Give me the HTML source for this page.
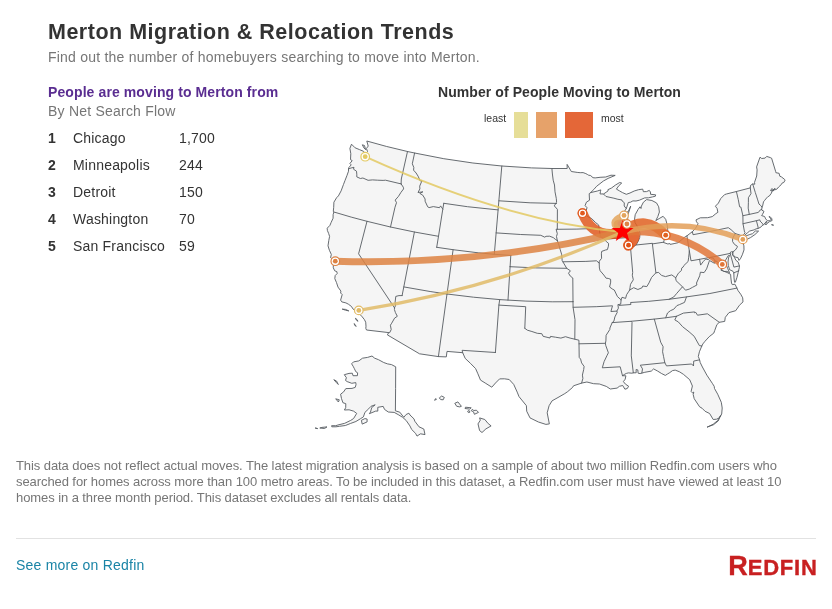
<!DOCTYPE html>
<html lang="en">
<head>
<meta charset="utf-8">
<title>Merton Migration &amp; Relocation Trends</title>
<style>
html,body{margin:0;padding:0;background:#fff;}
body{width:832px;height:609px;position:relative;overflow:hidden;font-family:"Liberation Sans",sans-serif;color:#333;}
.t{position:absolute;white-space:nowrap;line-height:1;}
#title{left:48px;top:22px;font-size:21.5px;font-weight:bold;color:#333;letter-spacing:0.5px;}
#sub{left:48px;top:50px;font-size:14px;color:#767676;letter-spacing:0.22px;}
#h2{left:48px;top:85px;font-size:14px;font-weight:bold;color:#5a2d91;letter-spacing:0.1px;}
#by{left:48px;top:104px;font-size:14px;color:#767676;letter-spacing:0.22px;}
.row{position:absolute;left:48px;font-size:14px;line-height:1;white-space:nowrap;color:#333;letter-spacing:0.2px;}
.row b{position:absolute;left:0;top:0;}
.row .n{position:absolute;left:25px;top:0;}
.row .v{position:absolute;left:131px;top:0;}
#mt{left:438px;top:85px;font-size:14px;font-weight:bold;color:#333;letter-spacing:0.08px;}
.lg{font-size:10.5px;color:#333;}
.sw{position:absolute;top:112px;height:26px;}
#disc{position:absolute;left:16px;top:458px;width:800px;font-size:13px;line-height:16px;color:#767676;letter-spacing:-0.08px;}
#hr{position:absolute;left:16px;top:538px;width:800px;height:1px;background:#e2e2e2;}
#more{left:16px;top:558px;font-size:14px;color:#1a84a6;letter-spacing:0.22px;}
#logo{position:absolute;left:728px;top:550px;}
svg#map{position:absolute;left:0;top:0;}
.land{fill:#f5f5f5;stroke:#565b61;stroke-width:0.9;stroke-linejoin:round;}
.bord{fill:none;stroke:#565b61;stroke-width:0.9;stroke-linejoin:round;stroke-linecap:round;}
</style>
</head>
<body>
<div class="t" id="title">Merton Migration &amp; Relocation Trends</div>
<div class="t" id="sub">Find out the number of homebuyers searching to move into Merton.</div>
<div class="t" id="h2">People are moving to Merton from</div>
<div class="t" id="by">By Net Search Flow</div>
<div class="row" style="top:131px"><b>1</b><span class="n">Chicago</span><span class="v">1,700</span></div>
<div class="row" style="top:158px"><b>2</b><span class="n">Minneapolis</span><span class="v">244</span></div>
<div class="row" style="top:185px"><b>3</b><span class="n">Detroit</span><span class="v">150</span></div>
<div class="row" style="top:212px"><b>4</b><span class="n">Washington</span><span class="v">70</span></div>
<div class="row" style="top:239px"><b>5</b><span class="n">San Francisco</span><span class="v">59</span></div>
<div class="t" id="mt">Number of People Moving to Merton</div>
<div class="t lg" style="left:484px;top:113px">least</div>
<div class="sw" style="left:514px;width:14px;background:#e6de98"></div>
<div class="sw" style="left:536px;width:21px;background:#e6a26a"></div>
<div class="sw" style="left:565px;width:28px;background:#e46738"></div>
<div class="t lg" style="left:601px;top:113px">most</div>
<svg id="map" width="832" height="609" viewBox="0 0 832 609">
<path class="land" d="M351.5,144.2L349.9,148.4L350.8,153.7L350.5,159.6L352.2,160.6L349.9,163.5L351.2,164.9L348.9,167.5L348.5,168.9L348.5,171.2L347,175.4L345,180.5L343.5,184.4L341.1,190.9L338.4,195.9L336.6,197.7L333.9,202.2L333.7,207.3L333.3,211.3L333.9,212L333.1,214.7L333.1,218.2L331.2,222.3L329.9,225.4L327.2,228.2L327.4,230.5L328.6,233.4L329.6,236.4L328.8,240.4L328,245.8L329.4,250.3L331.3,254.4L330.6,257.7L333,259.5L334.3,261.1L333.3,264.3L333.3,267.8L334.7,270.8L336.8,271.6L337.2,273.5L335.2,275.5L334.8,278.6L336.5,282.6L338,287.1L340.9,291.1L340.6,293L342.2,294.6L340.6,300.1L341.8,301.9L345.9,302.9L348.4,304.2L351.5,306.5L352.8,308.8L355.2,310.5L357.8,310.8L358.1,314.2L359.9,314.4L362.2,316.8L364.4,319.6L365.7,322.2L366,326.2L365.8,328.3L366.5,330L388.7,332.6L387.4,334.9L419.5,353.8L438.4,356.6L446.3,356.9L447,351.4L462.7,352.7L465.2,358.4L470.4,363.3L475.6,368.6L477.9,373.8L480.5,380.1L485.8,383.4L491.8,387.2L495.5,383L499.6,378.9L504.4,378.8L509.2,379.5L513.7,384.4L517.2,392.1L519,396.6L526.4,405.7L526.7,411.2L530,417.9L538.4,422L545.9,424.4L549.4,423.9L549.2,423.1L547.2,412.8L549.1,405.7L552.1,400.8L558,397.5L564.8,393.6L567.7,391.6L572.5,387.5L573.5,385.8L581.6,383.1L586.9,382L593.6,383.7L599.4,384L600.9,384.5L606.3,386.4L610.3,389L617.1,388.1L619.4,386.3L622.7,385.5L624.9,389.2L627.3,388.5L628.6,386.2L625.5,384.2L623.4,381.6L625.2,379.2L625.9,375.8L622.5,375.7L624.8,374.2L626.7,373.3L628.5,372.9L631.9,373.2L633.3,372.8L636.2,372.8L636.1,369.5L637.8,369.9L638.1,373.2L640.1,373.6L641.8,373.1L644.8,372.3L651.3,371.1L653.6,368.9L657.5,371L661.7,373.6L665.3,375.4L667.5,374L669.8,372.6L672.5,370.6L675.2,370.1L679.5,371.8L683.4,374.3L689.7,379.7L692.4,386L691.1,391.4L692.6,393L693.8,392L693.2,394.5L694.2,398.7L699.6,406.8L702,408.2L705.1,411.3L709.6,413.5L713.2,419.5L716.5,419.2L719.5,417.7L721.7,414L722.2,408L721.3,402.3L717.7,394.2L714.5,388.5L714.2,386.3L712.3,383.3L706.9,375.2L702.4,367L700.2,362.5L699.6,359.8L698.3,356.5L699.4,351.8L701.8,346L702.9,343.9L704.9,341.4L709.2,336.7L713.8,333.1L714.7,330.6L716.9,324.6L719.3,322.3L724.7,321.4L725.3,317.3L729,312.6L735.7,310.7L739.4,305.3L743,301.9L742.7,297.8L740.7,294.2L738.1,290.7L736.9,288.1L735.4,285L734.9,284.2L732.3,284.6L731.5,283L730.9,278L730.6,274.3L727.1,272.5L723.3,271L721,270.3L721.9,265.6L721.7,269.6L723.8,271.5L726.9,271.4L729.6,272.7L728.4,270L727.6,268.4L726.5,265.2L726.2,262.8L725.5,260.3L728.2,255.7L729.6,255.4L728.5,257.9L728,262L728.3,265.4L729.6,269.7L733,271.3L733.8,272.8L734,277.9L734.5,282.2L735.4,282.2L737,277.3L738.2,272.4L739.4,267.2L739.4,265.9L738.2,262.1L735.9,260.3L734.4,257.2L732.7,255.3L732.3,253.7L732.8,251.9L733,254.7L735.2,257.1L737.9,257.6L739,260.4L740.4,258.8L742.3,254.8L744,249.9L743.9,245.9L743,241.9L740.9,242L742.2,239.4L742.4,237.7L743.7,237L744.3,235.5L747.6,232.7L749.7,231L754.1,229.9L756,228.9L757.9,228.5L760.8,227.2L762,225.6L762.8,225.4L763.3,224.9L764.8,223.4L766.6,221.2L766.8,223.7L769.4,221.7L772.1,220.5L771.7,218.5L770.1,216.7L768.9,216.7L770.2,217.8L771.3,219.5L769.2,220.8L767.4,220.7L765.7,218.9L764.6,216.5L761.6,215.6L762.4,214.5L764,211.4L761.8,210.1L761.7,209.5L761.9,208L762,207.1L762.6,206L763.5,201.8L764.4,200.7L766.6,198L768.2,196.4L769,196.4L771.4,193.2L772.5,189.9L774.9,189.8L776.8,189.2L778.6,187L781.2,184.7L782.3,182.9L783.8,182.5L785.1,180.1L784.5,179.3L781.4,176.9L779.8,176.2L779.1,173.3L775.9,172.7L775.6,171.3L771.6,158.2L770.3,157.6L766.7,156.4L765.1,158.1L761.7,158.5L760,157.2L756.6,166.9L757.1,169.9L756.7,176L754.5,182.4L754.8,184.2L752.7,184L750.5,185.4L750.3,187.9L736.4,191.5L726.4,194L724.6,194.6L720.7,198.6L718.4,203.1L715.4,206.2L717.1,208.5L717.9,212.3L715.8,213.7L712.3,216.6L707.6,217.7L700.3,217.8L696,219.9L696.5,221.8L698.1,223.8L695.3,228.6L692.4,231.7L689.9,233.5L686.9,235.9L684.7,237.2L678.1,242.7L674.1,243.6L670.1,244.4L669.8,243.5L667.9,244L663.6,242.5L664.5,238.8L666.3,235.8L668.3,233.2L667.7,229.8L667.3,225.2L665.7,219.3L663.1,216.3L659.1,218.6L655.8,220.6L657.8,216.6L659.4,212L658.7,206.8L656.5,202.9L651.9,200.5L646.6,199.6L643.4,202.2L641.4,206.1L641,208.5L640,206.8L638.1,209.4L635.2,214.7L634.6,219L635,222.5L638.4,228.3L640,233.3L639.7,237.5L638.3,241L636.1,245L635.5,245.5L632.3,246.9L630.4,246.2L629.6,244.3L628.8,242.4L627.3,239.1L627.4,237.6L627.3,235L626.2,231.7L625.9,227.7L626.9,223.6L627,219.7L627.7,219.1L627.8,215.6L628.2,214L630.7,206.1L628.4,211.4L626,212.5L623.8,215.3L624.7,211L626.3,208.6L628.3,202.5L630.5,202.2L632.9,200.9L636,201L639.4,200.2L644.7,197.9L648.5,197.8L652.6,196.9L655.4,196.2L655.6,194.8L650.6,194.3L650.4,192L649.3,190.4L646.5,191.6L643.4,191.7L642.7,189.1L638.5,189.7L634.2,191L630,193L626.3,194.3L622.5,192.6L619.7,191L616.4,189.1L619,185.5L621.7,183.1L619.7,182.5L615.5,185L611.5,188L607.9,189.7L608.1,190.9L603.5,194L600,193.9L600.5,191.4L600.8,189.9L597.4,191L590.6,192.6L593.8,189.5L596.6,186.3L603.4,181L608.1,178.4L615.2,175.4L611,175.2L605.7,177L600.1,177.3L595.2,177.9L593,177.7L590.7,175.6L588.4,175.1L587.3,174.4L585.8,173.6L583.1,172.6L580.2,172.7L577.2,172.4L571.3,171.5L570.5,170.1L567.1,164.4L567.2,168.5L551.9,168.5L531.5,167.9L501.8,166L472.9,163L443.8,158.7L414.6,153L407.5,151.5L386.3,146.4L366.8,141L368.2,146.1L366.4,148.5L367.5,151.5L365.5,153.5L363.5,151.3L359.7,149.7L355.1,147.8L351.5,144.2ZM742.4,240.5L743.1,240.7L744.3,240.3L746.7,239.5L750.5,237.6L754.9,234.6L758.6,231.1L755.3,231L752.5,233.7L749.2,234.7L745.8,236L744,237.3L742.9,238.1L742.4,240.5ZM425,434.6L423.8,429L419,426.8L414.8,421.2L414,418.9L410,415L408.9,413.2L406.1,414.5L403.8,417.3L399.8,412.2L395.4,410.8L395.6,388.6L395.7,366.8L391.5,364.6L387.6,363.9L383.7,362.5L378.5,359.7L374.7,358.2L372,356L367.6,357.4L362.5,358.2L358.8,360.9L353.5,361.9L351.6,363.8L353.1,366.2L354.4,368.7L355.8,371.7L357.6,372.8L357.4,375.7L353,375.7L352.3,373.2L349,373.4L344.3,374.7L346.4,377.7L345.5,380.4L347.2,381.6L351.8,383.3L355.8,382.6L356,384.7L355.2,387.4L352,388.4L345.8,388.6L343.6,391.9L340.6,394.2L341.5,398.6L342.9,402.7L345.8,403.7L345.7,407.7L344.4,410L349.1,409.8L353.5,411.1L356.7,413.4L353.6,418.5L350.7,420.4L344.7,423.3L337.9,425L335.7,425.7L331.6,425.7L331.8,426.8L335.9,426.8L339.5,426.3L345.4,425.5L350.4,423.5L355.9,421.5L360.5,418.7L363.4,416.9L364.9,412.4L368.7,408.8L371,406.3L375.2,404.8L371.7,407.6L370.5,412L369.3,413.7L375.7,411.1L377.8,411.1L377.8,407.3L383.2,406.4L384.5,409.4L388.3,412L394.2,412.4L398.2,414.6L402.6,417.3L406.2,420.5L409.9,425.9L411.7,429.5L415.6,433.4L417,436.1L420.5,433.8L425,434.6ZM361.4,420.3L362.2,424.1L367.1,421.9L367.1,419L364.9,418.6L361.4,420.3ZM333.8,379.7L336.5,381L338.3,384.5L336.4,382.6L333.8,379.7ZM335.7,398.8L339.3,399.8L338.4,402L335.7,398.8ZM327,426.9L321.9,427.4L319.8,428L324.5,428.5L327,426.9ZM317.7,428.6L315.1,428L317.7,428.6ZM479.6,417.9L484.8,419.5L488.2,423.6L491.1,425.9L485.9,428.9L482,432.5L479.6,430.6L478,423.9L480.3,420.2L479.6,417.9ZM471.2,410.7L472.3,409.3L473.8,410.5L476.4,410.2L478.5,412.4L474.4,414.3L473.5,411.8L471.2,410.7ZM454.8,403.3L457.9,401.9L461.4,406.3L459.8,406.9L456.7,406.3L454.8,403.3ZM439.3,397.9L441.7,396L444.3,397.4L443.2,399.8L440.7,399.6L439.3,397.9ZM465,408.5L465.5,407.2L471.2,407.8L469.7,409.1L465,408.5ZM467.6,411.3L469.1,410.5L470,412.1L468.4,412.6L467.6,411.3ZM434.4,400.1L436,398.5L436.3,399.6L434.4,400.1ZM720.6,415.5L718.2,421L713.4,424.8L707,427.2L713.2,424.2L717.6,420.6L720.6,415.5ZM764.5,223.8L766.5,224.5L764.5,223.8ZM771.5,224.7L773.6,225.2L771.5,224.7ZM770.5,190.5L772,188.5L773.5,190L775,188.2L773.2,191L770.5,190.5ZM342.2,309.1L345.5,309.4L348.8,310.9L345.5,310.2L342.2,309.1ZM355.4,318.3L357,319.5L358,321.3L356.5,320.3L355.4,318.3ZM354,323.6L355.4,324.8L356,326.5L354.8,325.3L354,323.6ZM362.3,144.8L364.5,145.5L365.6,149.7L364,148L362.3,144.8Z"/>
<path class="bord" d="M348.5,168.9L351,168L354,167.3L353.5,169.2L356.5,171.2L356.8,174.2L356.8,176.9L360.4,178.5L362.9,178L368.1,180.3L372.5,179.9L377.6,180.2L383.1,180.4L385.5,180.2L401.1,183.9M407.5,151.5L401.3,179L401.1,183.9M401.1,183.9L403.3,187.2L403.6,188.9L401,192.3L398.5,196.3L395.2,200.1L396.5,202.7L395,207.2L390.5,227M333.9,212L351.2,217.1L367,221.3L390.5,227L414.4,232L438.5,236.3M367,221.3L358.6,253.8L394.5,307.8M402.1,295.6L399,295.6L395.8,296.4L395.1,302.2L395.5,305.7L394.5,307.8L394.4,309.5L395.4,312.5L397.3,316.3L394.6,318.1L391.7,323.2L390.4,325.2L391.2,329.6L389.7,332.6L388.7,332.6M402.1,295.6L403.8,286.9L414.4,232M403.8,286.9L430.1,291.5L447,294L473.5,297.2L499.7,299.6L508,300.1L525.9,301.1L552.2,301.8L573,301.7M447,294L438.4,356.6M447,294L453.1,249.7M436.7,247.3L453.1,249.7L478.2,252.8L494.3,254.3L510.8,255.5M436.7,247.3L438.5,236.3L442.8,209.1L443.8,203.3M443.8,203.3L467.4,206.7L498.1,209.9M442.8,209.1L440.6,205.9L439.5,207.7L433.3,206.6L429.1,207.6L427.7,206.8L425.1,201.2L425.1,199L422.7,195.1L419.8,193.4L422.9,191.8L418,192.5L419.9,188.9L419.7,186.1L421.9,180.9L420.1,180.8L418.1,176.2L416.1,173L413.6,170.2L413.8,167.4L412.3,163.8L414.6,153M501.8,166L498.1,209.9L494.3,254.3M498.9,200.8L530.1,202.8L556.6,203.4M496.1,232.9L520.7,234.5L540.8,235.3L544.8,237.2L546,236.3L549.6,236.2L553.3,237.6L555.3,239.3L557.3,240.5M510.8,255.5L510.1,266.7M510.1,266.7L535.7,267.9L566.7,268.3M510.1,266.7L508,300.1M499.7,299.6L498.9,305.1L495.4,352.5M498.9,305.1L525.7,306.7L524.8,328.3M495.4,352.5L462.1,350.3L462.7,352.7M524.8,328.3L527.4,330.2L531.9,331.5L537.3,333.3L541.8,333.7L543.1,336.3L550,338L550.4,336.4L555.5,337.2L560.9,338.1L565.5,336.7L570.1,338.1L574.8,339.2L578.9,340.2L579,343.8L579.2,357.4L580.6,359.1L581.6,362.9L584.1,366.4L583.7,369.5L582.4,375.1L582.9,378.4L581.6,383.1M579,343.8L605.4,343.3M574.8,339.2L575,319.7L573.1,307.3L573,301.7M573,301.7L572.8,278L570.3,276.1L568.5,273.2L570.4,270.8L566.7,268.3L562.9,261.8L562.2,260.7L561.6,254.2L560.1,249.3L558.5,243.7L557.3,240.5M562.9,261.8L585.9,261.4L596.5,260.8L599.2,263.1M557.3,229.3L576.9,229.1L599.1,228.3M557.3,240.5L556.5,236.5L557.3,233.7L556.1,229.2L557.3,229.3L557.4,209.3L554.3,205.9L556.3,202.6L556.6,202.2L556.3,198.5L555,191.8L554.5,185L553.2,180.2L552.4,174L551.9,168.5M590.6,192.6L589.2,193.7L589.5,200.2L586.4,202.2L585.1,205.6L587,207.7L585.9,211.6L586,215L588.2,216.9L591.7,218.6L595.4,222.4L598.7,225L599.1,228.3L599.9,233.3L600.5,236.6L604.3,239.2L606.5,241.8L608.6,243.4L608.4,246.2L607.4,249.6L605.5,250L601.7,251.4L601.4,253.8L601.6,258.3L599.3,261.2L599.2,263.1L599.4,268.1L600.1,270.7L603.8,275L606.1,278.2L608.2,278.4L610.6,279.3L610.7,282.1L609.6,287L612.8,289.3L614.3,290L617.4,296.5L621.1,299.9L620.7,304.2L617.9,304.6L618.4,308.2L616.8,311.1L617.3,312.2L614.9,316.9L613.9,321.1L612.2,322.6L609.9,328L609.8,329.5L606.1,335.3L605.9,340.9L605.4,343.3L605.7,345.3L608.4,352.8L607.1,355.3L604.1,361.6L602.3,367.8L620.2,366.8L622.5,375.7M604.3,239.2L627.4,237.6M603.5,194L606,196.5L613.9,198.2L617.9,199.3L621.8,199.9L622.1,201L624.3,202.7L624.2,206L626.3,208.6M630.4,246.2L632.7,272.4L632.3,275.2L633.3,279.8L630.5,284.3L630,287.7L629.7,290M621.1,299.9L622,297.3L625.6,298.4L626.6,294.7L628.9,291.2L629.7,290L633.7,287.7L637.9,289.5L642.1,287.7L642.8,286L646.8,286.6L649,282.9L651.6,277.4L655.9,272.8L658.6,272.4L661.5,275.4L665.5,276.6L671.8,274.9L675.7,277.8L678.4,273.2L681.5,270.4L681.6,268.2L683.1,267.1L683.8,265.6L688.1,261.5L688.7,257.2L689.1,253.4L689.3,250.7M686.9,235.9L689.3,250.7L691,260.8L699.6,259.3L716,256.3L730.2,253.4L730.5,252.1L731.6,251.7L732.8,251.9M730.2,253.4L733.9,267.1L739.4,265.9M733.6,272.9L738.8,270.8M699.6,259.3L700.6,265.1L703.3,261.5L705.7,259L708.5,259.7L710.4,257.6L713.4,258.2L715,261L717,261.4L719.8,264.3L721.9,265.6M715,261L714.5,263.3L709.5,260.5L706.6,268.9L704.1,272.6L700.4,272.2L699.7,275.8L696.5,283L696.9,285L692.4,287.4L689.3,289.1L685.5,290.2L682.5,286.8L676,280.6L675.7,277.8M682.5,286.8L676.8,293.3L673.7,297L669.1,299.3M736.9,288.1L709.9,293.5L686.5,296.9L669.1,299.3L648.8,301.3L630.6,302.5L630.9,304.5L619.1,305.4M686.5,296.9L684.5,302.4L679.5,304.6L676.9,305.6L673.8,309.2L670.4,310.7L667.5,313L665.7,317.8M676.5,316.3L665.7,317.8L654.3,319.1L631,321.3L612.2,322.6M676.5,316.3L683.4,313.1L694.6,311.9L694.8,313L695.7,312.3L697.5,315.2L707.4,313.8L719.3,322.3M676.5,316.3L674.8,319.9L678.3,321.9L682.6,326.7L689.1,331.8L694.2,336.3L696.8,341L699.4,345.6L701.8,346M699.6,359.8L693.7,361.1L693.5,366L691.7,364L666.5,365.9L664.8,362.7L663.6,356.7L662.6,351.8L663.1,346.7L660.7,342.2L654.3,319.1M664.8,362.7L640.3,365.2L642.5,368.9L641.8,373.1M633.3,372.8L631.3,355.9L632,322.3L631,321.3M573.1,307.3L596.2,306.7L612.5,305.8L610.9,311.5L616.8,311.1M655.9,272.8L652.4,243.9M636.1,245L652.4,243.3L652.4,243.9L663.6,242.2M692.4,231.7L693,234.7L711.1,231.3L728.3,227.7L731.1,229.7L735.1,233.5L732.6,238.5L732.6,241.6L734.5,244.4L737.4,246.3L737,247.7L735.2,250.2L732.8,251.9M735.1,233.5L742.4,235.9L742.2,239.4M744.3,235.5L743.5,234.5L745.2,232.8L744.5,232L743,223.7L742.9,215.7L740.9,207.1L739.6,206.8L738.3,199.7L736.4,191.5M749.3,214.4L748.2,208.1L748.4,202.3L748.4,197.7L751,193.6L750.3,187.9M742.9,215.7L749.3,214.4L758.4,212.4L760.3,209.9L761.7,209.5M743,223.7L756.4,220.7L759.8,219.8L760.1,221.1L762.2,223.2L763.3,224.9M756.4,220.7L758.1,227.2L757.9,228.5M762,207.1L760.6,205.4L759,204.1L757.7,199.9L755.3,192.5L752.7,184"/>
<path d="M628.5,245.2Q642.6,230.5 622.3,232.1" fill="none" stroke="#e05014" stroke-width="11" stroke-linecap="round" stroke-opacity="0.85"/>
<path d="M582.5,213.2Q593.8,240.7 622.3,232.1" fill="none" stroke="#e1591e" stroke-width="10" stroke-linecap="round" stroke-opacity="0.85"/>
<path d="M665.7,235.2Q645.5,213.1 622.3,232.1" fill="none" stroke="#e16221" stroke-width="10" stroke-linecap="round" stroke-opacity="0.85"/>
<path d="M722.3,264.4Q679.1,227.3 622.3,232.1" fill="none" stroke="#e17638" stroke-width="7.3" stroke-linecap="round" stroke-opacity="0.85"/>
<path d="M335.3,261.2Q480.7,265.6 622.3,232.1" fill="none" stroke="#dd8242" stroke-width="6.9" stroke-linecap="round" stroke-opacity="0.85"/>
<path d="M626.9,224Q609.8,219.7 622.3,232.1" fill="none" stroke="#de8446" stroke-width="7" stroke-linecap="round" stroke-opacity="0.85"/>
<path d="M742.8,239.4Q683.7,216.2 622.3,232.1" fill="none" stroke="#e39f58" stroke-width="5.5" stroke-linecap="round" stroke-opacity="0.85"/>
<path d="M624,215.4Q605.6,222 622.3,232.1" fill="none" stroke="#e3a45c" stroke-width="6" stroke-linecap="round" stroke-opacity="0.85"/>
<path d="M358.8,310.4Q495.7,288.5 622.3,232.1" fill="none" stroke="#e1bb67" stroke-width="3.2" stroke-linecap="round" stroke-opacity="0.85"/>
<path d="M365.2,156.7Q508.1,221.5 622.3,232.1" fill="none" stroke="#e3c962" stroke-width="2" stroke-linecap="round" stroke-opacity="0.85"/>
<polygon points="622.6,220.1 625.3,227.9 633.5,228 627,233 629.4,240.9 622.6,236.2 615.8,240.9 618.2,233 611.7,228 619.9,227.9" fill="#ff0000"/><circle cx="628.5" cy="245.2" r="4.3" fill="#fff" stroke="#e05014" stroke-width="1.2"/><circle cx="628.5" cy="245.2" r="2.4" fill="#e05014"/>
<circle cx="582.5" cy="213.2" r="4.3" fill="#fff" stroke="#e1591e" stroke-width="1.2"/><circle cx="582.5" cy="213.2" r="2.4" fill="#e1591e"/>
<circle cx="665.7" cy="235.2" r="4.3" fill="#fff" stroke="#e16221" stroke-width="1.2"/><circle cx="665.7" cy="235.2" r="2.4" fill="#e16221"/>
<circle cx="722.3" cy="264.4" r="4.3" fill="#fff" stroke="#e17638" stroke-width="1.2"/><circle cx="722.3" cy="264.4" r="2.4" fill="#e17638"/>
<circle cx="335.3" cy="261.2" r="4.3" fill="#fff" stroke="#dd8242" stroke-width="1.2"/><circle cx="335.3" cy="261.2" r="2.4" fill="#dd8242"/>
<circle cx="626.9" cy="224" r="4.3" fill="#fff" stroke="#de8446" stroke-width="1.2"/><circle cx="626.9" cy="224" r="2.4" fill="#de8446"/>
<circle cx="742.8" cy="239.4" r="4.3" fill="#fff" stroke="#e39f58" stroke-width="1.2"/><circle cx="742.8" cy="239.4" r="2.4" fill="#e39f58"/>
<circle cx="624" cy="215.4" r="4.3" fill="#fff" stroke="#e3a45c" stroke-width="1.2"/><circle cx="624" cy="215.4" r="2.4" fill="#e3a45c"/>
<circle cx="358.8" cy="310.4" r="4.3" fill="#fff" stroke="#e1bb67" stroke-width="1.2"/><circle cx="358.8" cy="310.4" r="2.4" fill="#e1bb67"/>
<circle cx="365.2" cy="156.7" r="4.3" fill="#fff" stroke="#e3c962" stroke-width="1.2"/><circle cx="365.2" cy="156.7" r="2.4" fill="#e3c962"/>

</svg>
<div id="disc">This data does not reflect actual moves. The latest migration analysis is based on a sample of about two million Redfin.com users who searched for homes across more than 100 metro areas. To be included in this dataset, a Redfin.com user must have viewed at least 10 homes in a three month period. This dataset excludes all rentals data.</div>
<div id="hr"></div>
<div class="t" id="more">See more on Redfin</div>
<svg id="logo" width="104" height="40" viewBox="0 0 104 40"><text x="0.2" y="24.5" font-family="Liberation Sans, sans-serif" font-weight="bold" font-size="27" fill="#c82021" stroke="#c82021" stroke-width="0.35">R<tspan font-size="22" letter-spacing="0.8">EDFIN</tspan></text></svg>
</body>
</html>
